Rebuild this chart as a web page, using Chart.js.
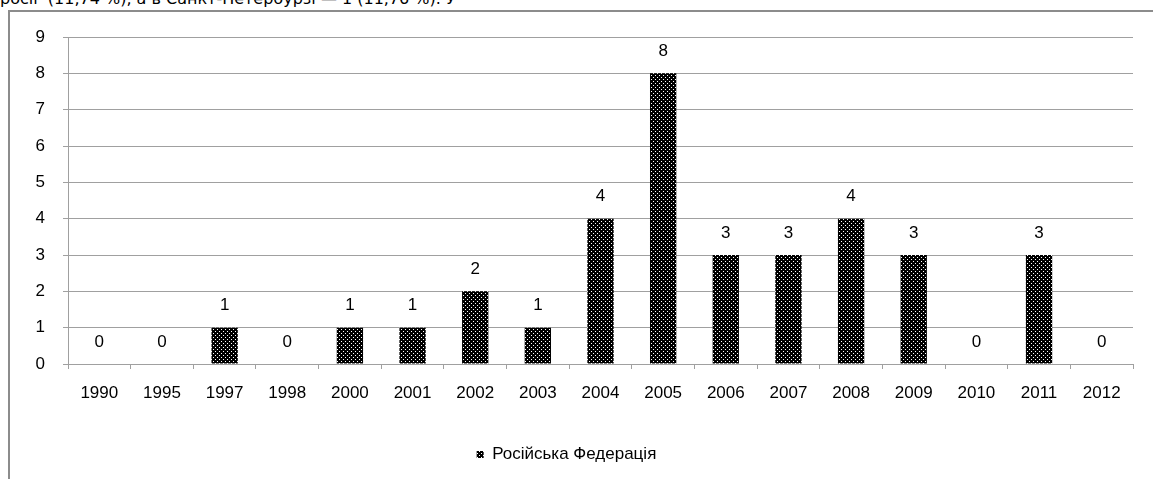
<!DOCTYPE html>
<html lang="uk">
<head>
<meta charset="UTF-8">
<title>Російська Федерація</title>
<script src="https://cdn.jsdelivr.net/npm/chart.js"></script>
<style>
    body { margin: 0; background: #fff; overflow: hidden; }
    .top-text { position: absolute; left: 0; top: -11px; font: 16px "DejaVu Sans", sans-serif; color: #000; white-space: pre; }
    .frame { position: absolute; left: 8px; top: 10px; width: 1160px; height: 480px; border-left: 2px solid #8c8c8c; border-top: 2px solid #8c8c8c; }
    .wrap { position: absolute; left: 0; top: 0; width: 1153px; height: 479px; }
</style>
</head>
<body>
    <div class="top-text">росії  (11,74 %), а в Санкт-Петербурзі — 1 (11,76 %). У</div>
    <div class="frame"></div>
    <div class="wrap"><canvas id="chart" width="1153" height="479"></canvas></div>

<script>
    // values
    const years = ['1990', '1995', '1997', '1998', '2000', '2001', '2002', '2003', '2004', '2005', '2006', '2007', '2008', '2009', '2010', '2011', '2012'];
    const counts = [0, 0, 1, 0, 1, 1, 2, 1, 4, 8, 3, 3, 4, 3, 0, 3, 0];
    const seriesName = 'Російська Федерація';

    const FONT = '"Liberation Sans", Arial, sans-serif';
    const FSIZE = 17;

    // dotted black fill like the original
    function makePattern() {
        const c = document.createElement('canvas');
        c.width = 4; c.height = 4;
        const g = c.getContext('2d');
        g.fillStyle = '#000';
        g.fillRect(0, 0, 4, 4);
        g.fillStyle = '#fff';
        g.fillRect(1, 1, 1, 1);
        g.fillRect(3, 3, 1, 1);
        return g.createPattern(c, 'repeat');
    }
    const dots = makePattern();

    // value labels above bars
    const valueLabels = {
        id: 'valueLabels',
        afterDatasetsDraw(chart) {
            const ctx = chart.ctx;
            const meta = chart.getDatasetMeta(0);
            ctx.save();
            ctx.font = FSIZE + 'px ' + FONT;
            ctx.fillStyle = '#000';
            ctx.textAlign = 'center';
            ctx.textBaseline = 'middle';
            meta.data.forEach((bar, i) => {
                ctx.fillText(String(counts[i]), bar.x, bar.y - 22);
            });
            ctx.restore();
        }
    };

    new Chart(document.getElementById('chart'), {
        type: 'bar',
        data: {
            labels: years,
            datasets: [{
                label: seriesName,
                data: counts,
                backgroundColor: dots,
                borderWidth: 0,
                barPercentage: 0.42,
                categoryPercentage: 1
            }]
        },
        options: {
            responsive: false,
            animation: false,
            layout: { padding: { top: 37, right: 20, left: 0, bottom: 6 } },
            plugins: {
                legend: {
                    position: 'bottom',
                    labels: {
                        boxWidth: 7,
                        boxHeight: 7,
                        padding: 10,
                        color: '#000',
                        font: { family: FONT, size: FSIZE }
                    }
                },
                tooltip: { enabled: false }
            },
            scales: {
                x: {
                    grid: { offset: true, drawOnChartArea: false, color: '#a0a0a0', tickLength: 5, tickColor: '#a0a0a0' },
                    border: { color: '#a0a0a0' },
                    ticks: { color: '#000', padding: 14, maxRotation: 0, autoSkip: false, font: { family: FONT, size: FSIZE } },
                    afterFit(scale) { scale.height = 72; }
                },
                y: {
                    min: 0,
                    max: 9,
                    grid: { color: '#a0a0a0', tickLength: 5, tickColor: '#a0a0a0' },
                    border: { color: '#a0a0a0' },
                    ticks: { stepSize: 1, color: '#000', padding: 18, font: { family: FONT, size: FSIZE } },
                    afterFit(scale) { scale.width = 68; }
                }
            }
        },
        plugins: [valueLabels]
    });
</script>
</body>
</html>
